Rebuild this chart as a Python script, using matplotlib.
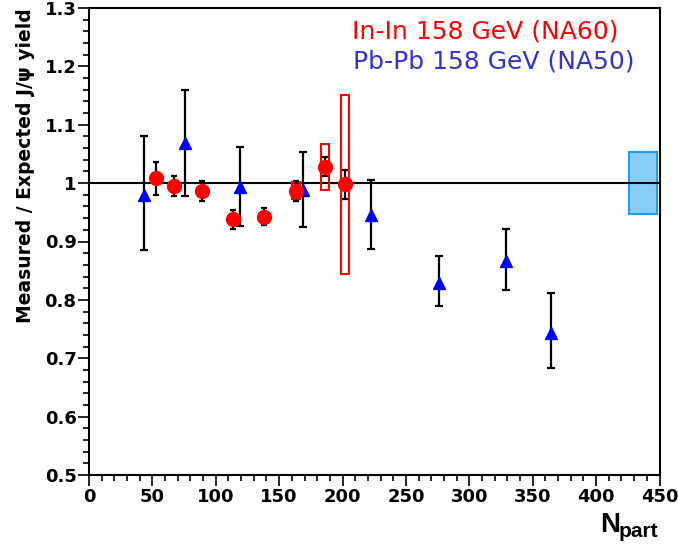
import numpy as np
import matplotlib
matplotlib.use('Agg')
import matplotlib.pyplot as plt
from matplotlib.patches import Rectangle
from matplotlib.ticker import MultipleLocator, FormatStrFormatter

# NA50 Pb-Pb 158 GeV
npart_na50 = [43.4, 75.7, 119.1, 169.0, 222.4, 275.8, 329.2, 364.2]
ratio_na50 = [0.980, 1.068, 0.994, 0.988, 0.945, 0.829, 0.867, 0.744]
err_lo_na50 = [0.095, 0.090, 0.067, 0.064, 0.057, 0.039, 0.050, 0.060]
err_hi_na50 = [0.100, 0.092, 0.068, 0.066, 0.060, 0.046, 0.054, 0.068]

# NA60 In-In 158 GeV
npart_na60 = [52.8, 67.0, 89.4, 113.3, 138.0, 163.3, 186.1, 201.9]
ratio_na60 = [1.008, 0.995, 0.987, 0.938, 0.9425, 0.987, 1.028, 0.998]
err_na60 = [0.029, 0.017, 0.017, 0.016, 0.015, 0.017, 0.016, 0.025]
syst_na60 = [0.0, 0.0, 0.0, 0.0, 0.0, 0.015, 0.039, 0.153]
box_half_width = 3.0

# global normalisation uncertainty box
glob_x = [426.2, 447.8]
glob_err = 0.0525

fig = plt.figure(figsize=(6.78, 5.5), dpi=100)
ax = fig.add_axes([89/678, 75/550, 570.5/678, 467/550])

ax.set_xlim(0, 450)
ax.set_ylim(0.5, 1.3)

# global box and reference line
ax.add_patch(Rectangle((glob_x[0], 1 - glob_err), glob_x[1] - glob_x[0], 2 * glob_err,
                       facecolor='#87cefa', edgecolor='#1e9bff', lw=1.5, zorder=1))
ax.axhline(1.0, color='black', lw=1.5, zorder=2)

# NA60 systematic boxes
for x, y, s in zip(npart_na60, ratio_na60, syst_na60):
    if s > 0:
        ax.add_patch(Rectangle((x - box_half_width, y - s), 2 * box_half_width, 2 * s,
                               facecolor='none', edgecolor='red', lw=1.5, zorder=3))

ax.errorbar(npart_na50, ratio_na50, yerr=[err_lo_na50, err_hi_na50], fmt='none',
            ecolor='black', elinewidth=1.6, capsize=3, capthick=1.6, zorder=4)
ax.plot(npart_na50, ratio_na50, '^', color='blue', ms=9, mec='blue', ls='none', zorder=5)

ax.errorbar(npart_na60, ratio_na60, yerr=err_na60, fmt='none',
            ecolor='black', elinewidth=1.6, capsize=2.5, capthick=1.6, zorder=4)
ax.plot(npart_na60, ratio_na60, 'o', color='red', ms=10, mec='red', ls='none', zorder=6)

# axes styling
for sp in ax.spines.values():
    sp.set_linewidth(1.5)
ax.xaxis.set_major_locator(MultipleLocator(50))
ax.xaxis.set_minor_locator(MultipleLocator(10))
ax.yaxis.set_major_locator(MultipleLocator(0.1))
ax.yaxis.set_minor_locator(MultipleLocator(0.02))
ax.yaxis.set_major_formatter(FormatStrFormatter('%g'))
ax.tick_params(which='major', direction='out', length=8, width=1.2, pad=1,
               labelsize=13)
ax.tick_params(which='minor', direction='out', length=4.3, width=1.2)
for lab in ax.get_xticklabels() + ax.get_yticklabels():
    lab.set_fontweight('bold')

ax.set_ylabel(u'Measured / Expected J/\u03c8 yield', fontsize=13.5, fontweight='bold',
              loc='top', labelpad=4)
ax.yaxis.set_label_coords(-0.095, 1.0)

fig.text(600/678, 1 - 532/550, 'N', fontsize=20, fontweight='bold',
         family='Liberation Sans', va='baseline', ha='left')
fig.text(619/678, 1 - 537/550, 'part', fontsize=15, fontweight='bold',
         family='Liberation Sans', va='baseline', ha='left')

fig.text(352/678, 1 - 38/550, 'In-In 158 GeV (NA60)', fontsize=18, color='red',
         va='baseline', ha='left')
fig.text(353/678, 1 - 69/550, 'Pb-Pb 158 GeV (NA50)', fontsize=18, color='#3333cc',
         va='baseline', ha='left')

fig.savefig('out.png', dpi=100)
